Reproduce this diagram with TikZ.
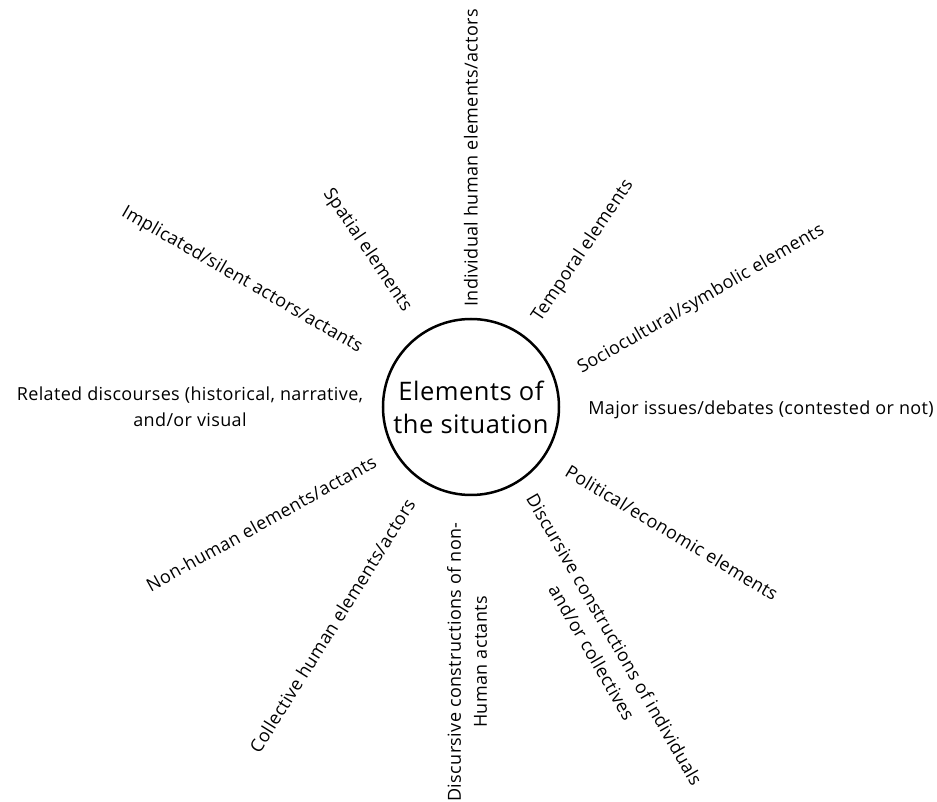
\documentclass[tikz,border=0pt]{standalone}
\usepackage{fontspec}
\setmainfont{Open Sans}[LetterSpace=2]
\begin{document}
\begin{tikzpicture}[x=1pt,y=1pt,
		lbl/.style={font=\fontsize{18}{26}\selectfont,align=center,inner sep=0pt},
		hub/.style={circle,draw,line width=2.5pt,minimum size=176pt,inner sep=0pt,font=\fontsize{25.5}{33}\selectfont,align=center}]
		\useasboundingbox (-471,-395) rectangle (466,407);
		\node[hub] (sit) at (0,0) {Elements of\\the situation};
		\node[lbl,rotate=90] (indiv) at (90:249) {Individual human elements/actors};
		\node[lbl,rotate=56] (temp) at (54.3:192) {Temporal elements};
		\node[lbl,rotate=30] (socio) at (25:254) {Sociocultural/symbolic elements};
		\node[lbl] (issues) at (290,-3) {Major issues/debates (contested or not)};
		\node[lbl,rotate=-31] (polit) at (-32:237) {Political/economic elements};
		\node[lbl,rotate=-60] (discind) at (299:273) {Discursive constructions of individuals\\and/or collectives};
		\node[lbl,rotate=90] (discnon) at (-4,-255) {Discursive constructions of non-\\Human actants};
		\node[lbl,rotate=58] (coll) at (237.6:259) {Collective human elements/actors};
		\node[lbl,rotate=29] (nonhum) at (209:240) {Non-human elements/actants};
		\node[lbl] (disc) at (180:281) {Related discourses (historical, narrative,\\and/or visual};
		\node[lbl,rotate=-30] (impl) at (151:262) {Implicated/silent actors/actants};
		\node[lbl,rotate=-56] (spat) at (123.5:188) {Spatial elements};
\end{tikzpicture}
\end{document}
